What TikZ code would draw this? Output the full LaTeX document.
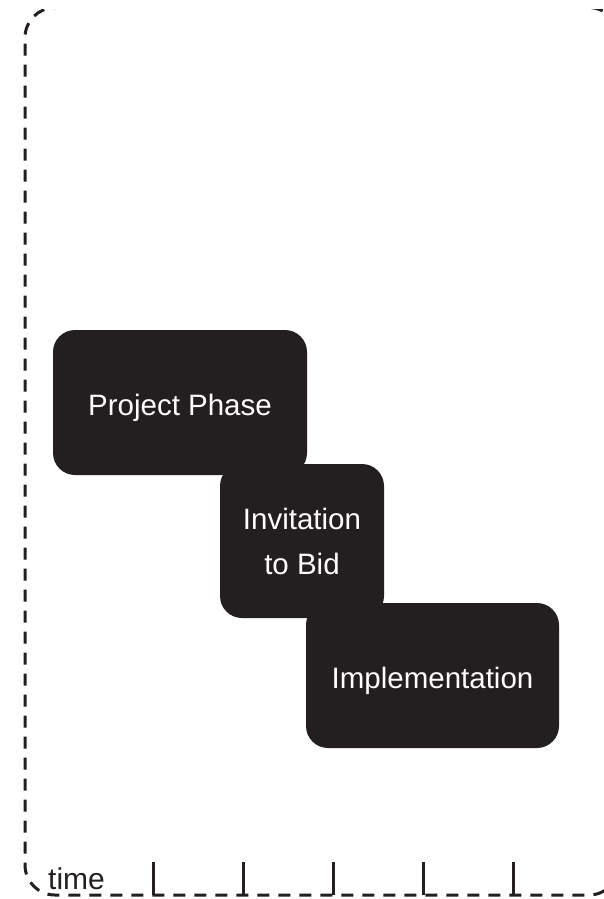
\documentclass[tikz,border=0pt]{standalone}
\usepackage{fontspec}
\setmainfont{Liberation Sans}
\definecolor{phasefill}{HTML}{231F20}
\definecolor{framecol}{HTML}{231F20}
\tikzset{
  phasebox/.style={rectangle, rounded corners=22pt, fill=phasefill, draw=none,
    text=white, inner sep=0pt, align=center,
    font=\fontsize{29.5}{45}\selectfont},
  oneline/.style={text height=25pt, text depth=0pt},
  framepath/.style={draw=framecol, line width=3pt, dash pattern=on 12pt off 9pt,
    dash phase=10pt, rounded corners=30pt},
  tickline/.style={draw=framecol, line width=3pt},
  axislabel/.style={font=\fontsize{30}{36}\selectfont, text=framecol, inner sep=0pt}
}
\begin{document}
\begin{tikzpicture}[x=1pt, y=-1pt]
  \useasboundingbox (0,0) rectangle (604,899);

  % dashed frame (top edge runs out of view)
  \begin{scope}
    \clip (-20,9.6) rectangle (660,920);
    \draw[framepath] (55,7.6) -- (25,7.6) -- (25,895) -- (619,895) -- (619,7.6) -- (589,7.6);
  \end{scope}

  % time axis ticks
  \foreach \tx [count=\i] in {153,243,333,423,513} {
    \coordinate (tt\i) at (\tx,862);
    \coordinate (tb\i) at (\tx,895);
    \draw[tickline] (tt\i) -- (tb\i);
  }
  \node[axislabel, anchor=base west] (timelabel) at (48,889) {time};

  % phases
  \node[phasebox, oneline, minimum width=254pt, minimum height=145pt] (project) at (180,402.5) {Project Phase};
  \node[phasebox, minimum width=164pt, minimum height=154pt] (bid) at (302,541) {Invitation\\to Bid};
  \node[phasebox, oneline, minimum width=253pt, minimum height=145pt] (impl) at (432.5,675.5) {Implementation};
\end{tikzpicture}
\end{document}
